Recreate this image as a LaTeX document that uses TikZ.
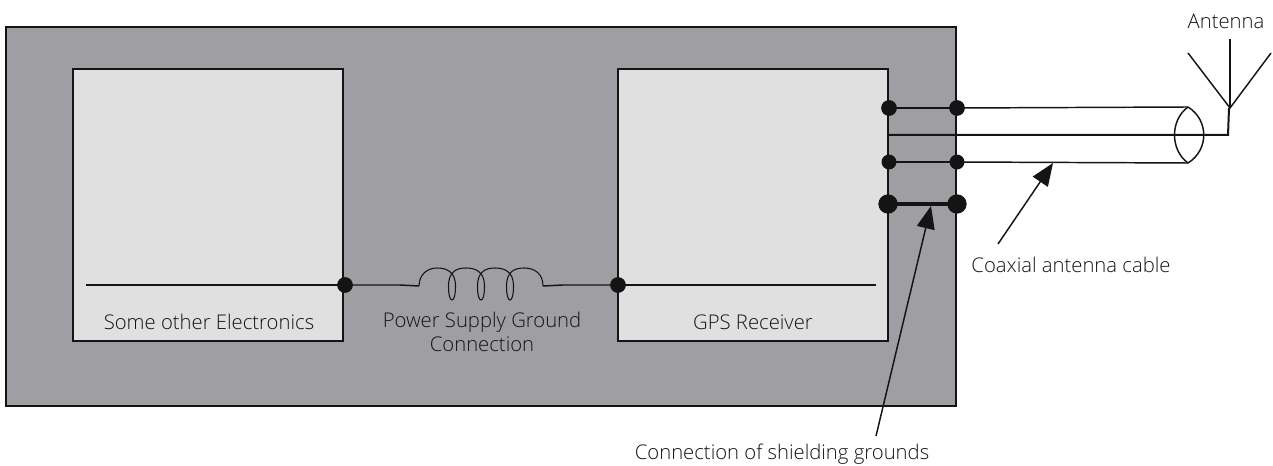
\documentclass[tikz,border=0pt]{standalone}
\usepackage{fontspec}
\setmainfont{Open Sans Light}
\usetikzlibrary{arrows.meta}
\definecolor{outerfill}{RGB}{159,158,163}
\definecolor{innerfill}{RGB}{224,224,224}
\definecolor{ink}{RGB}{20,20,20}
\tikzset{
  x=0.75pt,y=-0.75pt,
  wire/.style={draw=ink,line width=1.5pt},
  thin wire/.style={draw=ink,line width=1.1pt},
  panel/.style={draw=ink,line width=1.5pt,fill=innerfill},
  dotS/.style={circle,fill=ink,draw=none,inner sep=0pt,minimum size=11.8pt},
  dotL/.style={circle,fill=ink,draw=none,inner sep=0pt,minimum size=14.5pt},
  label/.style={font=\fontsize{15.2pt}{18pt}\selectfont,text=ink,align=center,inner sep=0pt},
  callout/.style={draw=ink,line width=1.1pt,-{Triangle[length=17pt,width=13.5pt]}},
}
\begin{document}
\begin{tikzpicture}
\useasboundingbox (0,0) rectangle (1273,466);
\draw[panel,fill=outerfill] (6,27) rectangle (956,406);
\draw[panel] (73,69) rectangle (343,341);
\draw[panel] (618,69) rectangle (888,341);
% cable
\coordinate (ctop) at (1188,107);
\coordinate (cbot) at (1188,163);
\node[dotS] (a1) at (889,108) {};
\node[dotS] (b1) at (957,108) {};
\node[dotS,minimum size=11.2pt] (a2) at (889,162) {};
\node[dotS,minimum size=11.2pt] (b2) at (957,162) {};
\node[dotL] (a3) at (888,204) {};
\node[dotL] (b3) at (957,204) {};
\draw[wire] (a1.center) -- (b1.center);
\draw[wire] (a2.center) -- (b2.center);
\draw[draw=ink,line width=3pt] (a3.center) -- (b3.center);
\draw[thin wire] (b1.center) -- (ctop);
\draw[thin wire] (b2.center) -- (cbot);
\draw[thin wire] (ctop) .. controls (1170,120) and (1170,150) .. (cbot);
\draw[thin wire] (ctop) .. controls (1209,120) and (1209,150) .. (cbot);
% antenna
\coordinate (feedstart) at (888,135);
\coordinate (feedcorner) at (1228,135);
\coordinate (apex) at (1229,108);
\coordinate (anttop) at (1230,39);
\coordinate (antl) at (1188,53);
\coordinate (antr) at (1271,53);
\draw[wire] (feedstart) -- (feedcorner) -- (apex);
\draw[thin wire] (anttop) -- (1230,108);
\draw[thin wire] (antl) -- (1230,108) -- (antr);
% ground
\node[dotS] (gl) at (345,285) {};
\node[dotS] (gr) at (618,285) {};
\coordinate (gle) at (86,285);
\coordinate (gre) at (876,285);
\coordinate (cs) at (419,286);
\coordinate (ce) at (543,286);
\draw[thin wire] (gle) -- (gl.center);
\draw[thin wire] (gr.center) -- (gre);
\draw[thin wire] (gl.center) -- (400,285) -- (cs);
\draw[thin wire] (gr.center) -- (563,285) -- (ce);
\draw[draw=ink,line width=0.8pt] (cs)
  .. controls (419,274) and (428,268) .. (437,268)
  .. controls (447,268) and (455.5,272) .. (455.5,286)
  .. controls (455.5,295) and (454,300) .. (452,300)
  .. controls (450,300) and (448.5,295) .. (448.5,286)
  .. controls (448.5,272) and (456,268) .. (466,268)
  .. controls (476,268) and (484.5,272) .. (484.5,286)
  .. controls (484.5,295) and (483,300) .. (481,300)
  .. controls (479,300) and (477.5,295) .. (477.5,286)
  .. controls (477.5,272) and (485,268) .. (495,268)
  .. controls (505,268) and (513.5,272) .. (513.5,286)
  .. controls (513.5,295) and (512,300) .. (510,300)
  .. controls (508,300) and (506.5,295) .. (506.5,286)
  .. controls (506.5,272) and (514,268) .. (524,268)
  .. controls (535,268) and (543,274) .. (ce);
% labels
\node[label] (lblant) at (1226,21) {Antenna};
\node[label] (lblcoax) at (1071,265) {Coaxial antenna cable};
\node[label] (lblshield) at (782,454) {Connection of shielding grounds};
\node[label] (lblother) at (209,322) {Some other Electronics};
\node[label] (lblgps) at (753,322) {GPS Receiver};
\node[label] (lblpsu) at (482,332) {Power Supply Ground\\Connection};
% callouts
\coordinate (coaxtail) at (998,244);
\coordinate (coaxtip) at (1053,163);
\coordinate (shtail) at (876,436);
\coordinate (shtip) at (931,206);
\draw[callout] (coaxtail) -- (coaxtip);
\draw[callout] (shtail) -- (shtip);
\end{tikzpicture}
\end{document}
